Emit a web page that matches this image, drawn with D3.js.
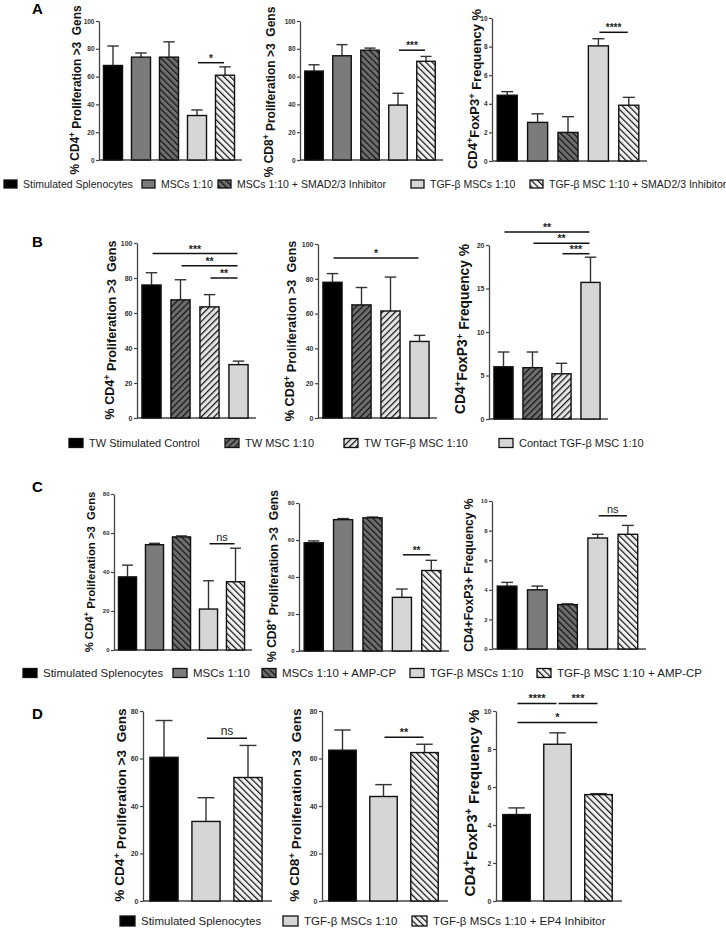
<!DOCTYPE html>
<html>
<head>
<meta charset="utf-8">
<script src="https://cdn.jsdelivr.net/npm/d3@7"></script>
<style>
body { margin: 0; background: #fff; }
svg { font-family: "Liberation Sans", Arial, sans-serif; }
text { white-space: pre; }
</style>
</head>
<body>
<svg id="fig" width="726" height="933"></svg>
<script>
// ---------- data ----------
var groupsA = ["Stimulated Splenocytes", "MSCs 1:10", "MSCs 1:10 + SMAD2/3 Inhibitor", "TGF-β MSCs 1:10", "TGF-β MSC 1:10 + SMAD2/3 Inhibitor"];
var groupsB = ["TW Stimulated Control", "TW MSC 1:10", "TW TGF-β MSC 1:10", "Contact TGF-β MSC 1:10"];
var groupsC = ["Stimulated Splenocytes", "MSCs 1:10", "MSCs 1:10 + AMP-CP", "TGF-β MSCs 1:10", "TGF-β MSC 1:10 + AMP-CP"];
var groupsD = ["Stimulated Splenocytes", "TGF-β MSCs 1:10", "TGF-β MSCs 1:10 + EP4 Inhibitor"];

var cd4A = [68, 74, 74, 32, 61];          var cd4ErrA = [14, 3, 11, 4, 6];
var cd8A = [64, 75, 79, 39.5, 71];        var cd8ErrA = [4.5, 8, 1.5, 8.5, 3.5];
var tregA = [4.6, 2.7, 2.0, 8.05, 3.9];   var tregErrA = [0.25, 0.6, 1.1, 0.5, 0.55];

var cd4B = [76, 67.5, 63.5, 30.5];        var cd4ErrB = [7, 11.5, 7, 2];
var cd8B = [78, 65, 61.5, 44];            var cd8ErrB = [5, 10, 19.5, 3.5];
var tregB = [6.0, 5.9, 5.2, 15.7];        var tregErrB = [1.7, 1.8, 1.2, 2.9];

var cd4C = [37.5, 54, 58, 21, 35];        var cd4ErrC = [6, 0.7, 0.5, 14.5, 17.2];
var cd8C = [58.5, 71, 72, 29, 43.5];      var cd8ErrC = [1, 0.6, 0.4, 4.5, 5.5];
var tregC = [4.25, 4.0, 3.0, 7.5, 7.75];  var tregErrC = [0.25, 0.25, 0.05, 0.25, 0.6];

var cd4D = [60.5, 33.5, 52];              var cd4ErrD = [15.5, 10, 13.5];
var cd8D = [63.5, 44, 62.5];              var cd8ErrD = [8.5, 5, 3.5];
var tregD = [4.55, 8.25, 5.6];            var tregErrD = [0.35, 0.6, 0.05];

// significance brackets: [from, to, level, label]
var sigA1 = [[3, 4, 70, "*"]];
var sigA2 = [[3, 4, 79, "***"]];
var sigA3 = [[3, 4, 9.0, "****"]];
var sigB1 = [[0, 3, 94, "***"], [1, 3, 87, "**"], [2, 3, 80, "**"]];
var sigB2 = [[0, 3, 92, "*"]];
var sigB3 = [[0, 3, 21.5, "**"], [1, 3, 20.2, "**"], [2, 3, 19.0, "***"]];
var sigC1 = [[3, 4, 54.5, "ns"]];
var sigC2 = [[3, 4, 52, "**"]];
var sigC3 = [[3, 4, 9.0, "ns"]];
var sigD1 = [[1, 2, 68.5, "ns"]];
var sigD2 = [[1, 2, 69, "**"]];
var sigD3 = [[0, 1, 10.4, "****"], [1, 2, 10.4, "***"], [0, 2, 9.4, "*"]];

var ticks100 = [0, 20, 40, 60, 80, 100];
var ticks80 = [0, 20, 40, 60, 80];
var ticks10 = [0, 2, 4, 6, 8, 10];
var ticks20 = [0, 5, 10, 15, 20];

var labCD4 = "% CD4^+^ Proliferation >3  Gens";
var labCD8 = "% CD8^+^ Proliferation >3  Gens";
var labTreg = "CD4^+^FoxP3^+^ Frequency %";
var labTregC = "CD4+FoxP3+ Frequency %";

// ---------- styles ----------
var fillsA = ["#000", "#7b7b7b", "url(#hDarkB)", "#d6d6d6", "url(#hLightB)"];
var fillsB = ["#000", "url(#hDarkF)", "url(#hLightF)", "#d6d6d6"];
var fillsD = ["#000", "#d6d6d6", "url(#hLightB)"];

var svg = d3.select("#fig");
var defs = svg.append("defs");

function hatch(id, bg, angle) {
  var p = defs.append("pattern").attr("id", id)
    .attr("patternUnits", "userSpaceOnUse")
    .attr("width", 4.5).attr("height", 4.5)
    .attr("patternTransform", "rotate(" + angle + ")");
  p.append("rect").attr("width", 4.5).attr("height", 4.5).attr("fill", bg);
  p.append("line").attr("x1", 0).attr("y1", 0).attr("x2", 0).attr("y2", 4.5)
    .attr("stroke", "#111").attr("stroke-width", 2.4);
}
hatch("hDarkB", "#6e6e6e", -45);
hatch("hLightB", "#f2f2f2", -45);
hatch("hDarkF", "#6e6e6e", 45);
hatch("hLightF", "#e4e4e4", 45);

function label(sel, str) {
  var parts = str.split("^");
  parts.forEach(function(s, i) {
    if (!s) return;
    var t = sel.append("tspan").text(s);
    if (i % 2 == 1) t.attr("dy", "-0.45em").attr("font-size", "70%");
    else if (i > 0) t.attr("dy", "0.45em");
  });
}

function drawChart(c) {
  var g = svg.append("g");
  var n = c.values.length;
  var x = d3.scaleBand().domain(d3.range(n)).range([c.x0, c.x1])
    .paddingInner(c.pad).paddingOuter(c.pad / 2);
  var y = d3.scaleLinear().domain([0, c.max]).range([c.yb, c.yt]);
  var bw = x.bandwidth();

  var ax = g.append("g").attr("transform", "translate(" + c.x0 + ",0)")
    .call(d3.axisLeft(y).tickValues(c.ticks).tickSize(3).tickSizeOuter(0).tickPadding(1.5));
  ax.select(".domain").attr("stroke", "#444").attr("stroke-width", 1.3);
  ax.selectAll(".tick line").attr("stroke", "#444").attr("stroke-width", 1.2);
  ax.selectAll(".tick text").attr("font-size", c.tickFs).attr("font-weight", "bold")
    .attr("fill", "#333").attr("font-family", "Liberation Sans, Arial, sans-serif");

  g.append("line").attr("x1", c.x0).attr("x2", c.x1 + 3)
    .attr("y1", y(0)).attr("y2", y(0)).attr("stroke", "#444").attr("stroke-width", 1.3);

  // error bars (upper only)
  var eb = g.selectAll(".err").data(c.values).enter().append("g");
  eb.append("line")
    .attr("x1", function(d, i) { return x(i) + bw / 2; })
    .attr("x2", function(d, i) { return x(i) + bw / 2; })
    .attr("y1", function(d) { return y(d); })
    .attr("y2", function(d, i) { return y(d + c.errs[i]); })
    .attr("stroke", "#333").attr("stroke-width", 1.4);
  eb.append("line")
    .attr("x1", function(d, i) { return x(i) + bw / 2 - bw * 0.3; })
    .attr("x2", function(d, i) { return x(i) + bw / 2 + bw * 0.3; })
    .attr("y1", function(d, i) { return y(d + c.errs[i]); })
    .attr("y2", function(d, i) { return y(d + c.errs[i]); })
    .attr("stroke", "#333").attr("stroke-width", 1.4);

  g.selectAll(".bar").data(c.values).enter().append("rect")
    .attr("x", function(d, i) { return x(i); })
    .attr("y", function(d) { return y(d); })
    .attr("width", bw)
    .attr("height", function(d) { return y(0) - y(d); })
    .attr("fill", function(d, i) { return c.fills[i]; })
    .attr("stroke", "#111").attr("stroke-width", 1.4);

  c.sig.forEach(function(s) {
    var xa = x(s[0]) + bw / 2, xb = x(s[1]) + bw / 2, yy = y(s[2]);
    g.append("line").attr("x1", xa + 1).attr("x2", xb - 1).attr("y1", yy).attr("y2", yy)
      .attr("stroke", "#111").attr("stroke-width", 1.5);
    var ns = s[3] == "ns";
    g.append("text").attr("x", (xa + xb) / 2).attr("y", yy - (ns ? 3 : 1))
      .attr("text-anchor", "middle").attr("font-size", ns ? c.nsFs : c.starFs)
      .attr("font-weight", ns ? "normal" : "bold").attr("fill", "#222")
      .text(s[3]);
  });

  var t = g.append("text")
    .attr("transform", "translate(" + c.lx + "," + c.ly + ") rotate(-90)")
    .attr("text-anchor", "middle").attr("font-size", c.labFs)
    .attr("font-weight", "bold").attr("fill", "#111");
  label(t, c.label);
}

function panelLetter(txt, x, y) {
  svg.append("text").attr("x", x).attr("y", y).attr("font-size", 15)
    .attr("font-weight", "bold").text(txt);
}

function legend(items, fills, xs, y, bw, bh, fs) {
  items.forEach(function(name, i) {
    svg.append("rect").attr("x", xs[i]).attr("y", y - bh / 2).attr("width", bw).attr("height", bh)
      .attr("fill", fills[i]).attr("stroke", "#111").attr("stroke-width", 1.3);
    svg.append("text").attr("x", xs[i] + bw + 6).attr("y", y + fs * 0.36)
      .attr("font-size", fs).attr("fill", "#222").text(name);
  });
}

// ---------- panel A ----------
panelLetter("A", 32, 14);
drawChart({values: cd4A, errs: cd4ErrA, fills: fillsA, sig: sigA1, max: 100, ticks: ticks100,
  x0: 99, x1: 239, pad: 0.32, yt: 21, yb: 160, tickFs: 6.5, starFs: 10, nsFs: 11,
  label: labCD4, lx: 79, ly: 90, labFs: 11.9});
drawChart({values: cd8A, errs: cd8ErrA, fills: fillsA, sig: sigA2, max: 100, ticks: ticks100,
  x0: 300, x1: 440, pad: 0.34, yt: 21, yb: 160, tickFs: 6.5, starFs: 10, nsFs: 11,
  label: labCD8, lx: 273, ly: 92, labFs: 12});
drawChart({values: tregA, errs: tregErrA, fills: fillsA, sig: sigA3, max: 10, ticks: ticks10,
  x0: 492, x1: 644, pad: 0.34, yt: 18, yb: 161, tickFs: 6.5, starFs: 10, nsFs: 11,
  label: labTreg, lx: 477, ly: 89, labFs: 13});
legend(groupsA, fillsA, [4, 142, 218, 411, 530], 184, 13, 8, 10.5);

// ---------- panel B ----------
panelLetter("B", 32, 247);
drawChart({values: cd4B, errs: cd4ErrB, fills: fillsB, sig: sigB1, max: 100, ticks: ticks100,
  x0: 137, x1: 253, pad: 0.34, yt: 243, yb: 418, tickFs: 7, starFs: 10.5, nsFs: 11,
  label: labCD4, lx: 114, ly: 330, labFs: 12.6});
drawChart({values: cd8B, errs: cd8ErrB, fills: fillsB, sig: sigB2, max: 100, ticks: ticks100,
  x0: 318, x1: 434, pad: 0.34, yt: 244, yb: 418, tickFs: 7, starFs: 10.5, nsFs: 11,
  label: labCD8, lx: 294, ly: 331, labFs: 12.7});
drawChart({values: tregB, errs: tregErrB, fills: fillsB, sig: sigB3, max: 20, ticks: ticks20,
  x0: 489, x1: 605, pad: 0.34, yt: 245, yb: 419, tickFs: 7, starFs: 10.5, nsFs: 11,
  label: labTreg, lx: 465, ly: 329, labFs: 13.8});
legend(groupsB, fillsB, [69, 225, 344, 499], 443, 14, 9, 11);

// ---------- panel C ----------
panelLetter("C", 32, 492);
drawChart({values: cd4C, errs: cd4ErrC, fills: fillsA, sig: sigC1, max: 80, ticks: ticks80,
  x0: 114, x1: 249, pad: 0.33, yt: 494, yb: 650, tickFs: 6, starFs: 10, nsFs: 11,
  label: labCD4, lx: 93, ly: 572, labFs: 11.3});
drawChart({values: cd8C, errs: cd8ErrC, fills: fillsA, sig: sigC2, max: 80, ticks: ticks80,
  x0: 299, x1: 446, pad: 0.35, yt: 503, yb: 651, tickFs: 6, starFs: 10, nsFs: 11,
  label: labCD8, lx: 276, ly: 576, labFs: 12.1});
drawChart({values: tregC, errs: tregErrC, fills: fillsA, sig: sigC3, max: 10, ticks: ticks10,
  x0: 492, x1: 643, pad: 0.35, yt: 501, yb: 649, tickFs: 6, starFs: 10, nsFs: 11,
  label: labTregC, lx: 473, ly: 575, labFs: 12.1});
legend(groupsC, fillsA, [23, 173, 262, 410, 537], 673, 14, 9, 11.5);

// ---------- panel D ----------
panelLetter("D", 32, 719);
drawChart({values: cd4D, errs: cd4ErrD, fills: fillsD, sig: sigD1, max: 80, ticks: ticks80,
  x0: 143, x1: 269, pad: 0.33, yt: 711, yb: 901, tickFs: 7, starFs: 11, nsFs: 12,
  label: labCD4, lx: 124, ly: 805, labFs: 13.6});
drawChart({values: cd8D, errs: cd8ErrD, fills: fillsD, sig: sigD2, max: 80, ticks: ticks80,
  x0: 322, x1: 445, pad: 0.33, yt: 711, yb: 901, tickFs: 7, starFs: 11, nsFs: 12,
  label: labCD8, lx: 299, ly: 805, labFs: 13.6});
drawChart({values: tregD, errs: tregErrD, fills: fillsD, sig: sigD3, max: 10, ticks: ticks10,
  x0: 496, x1: 619, pad: 0.33, yt: 711, yb: 901, tickFs: 7, starFs: 11, nsFs: 12,
  label: labTreg, lx: 475, ly: 803, labFs: 15.2});
legend(groupsD, fillsD, [120, 283, 412], 921, 15, 10, 11.5);
</script>
</body>
</html>
